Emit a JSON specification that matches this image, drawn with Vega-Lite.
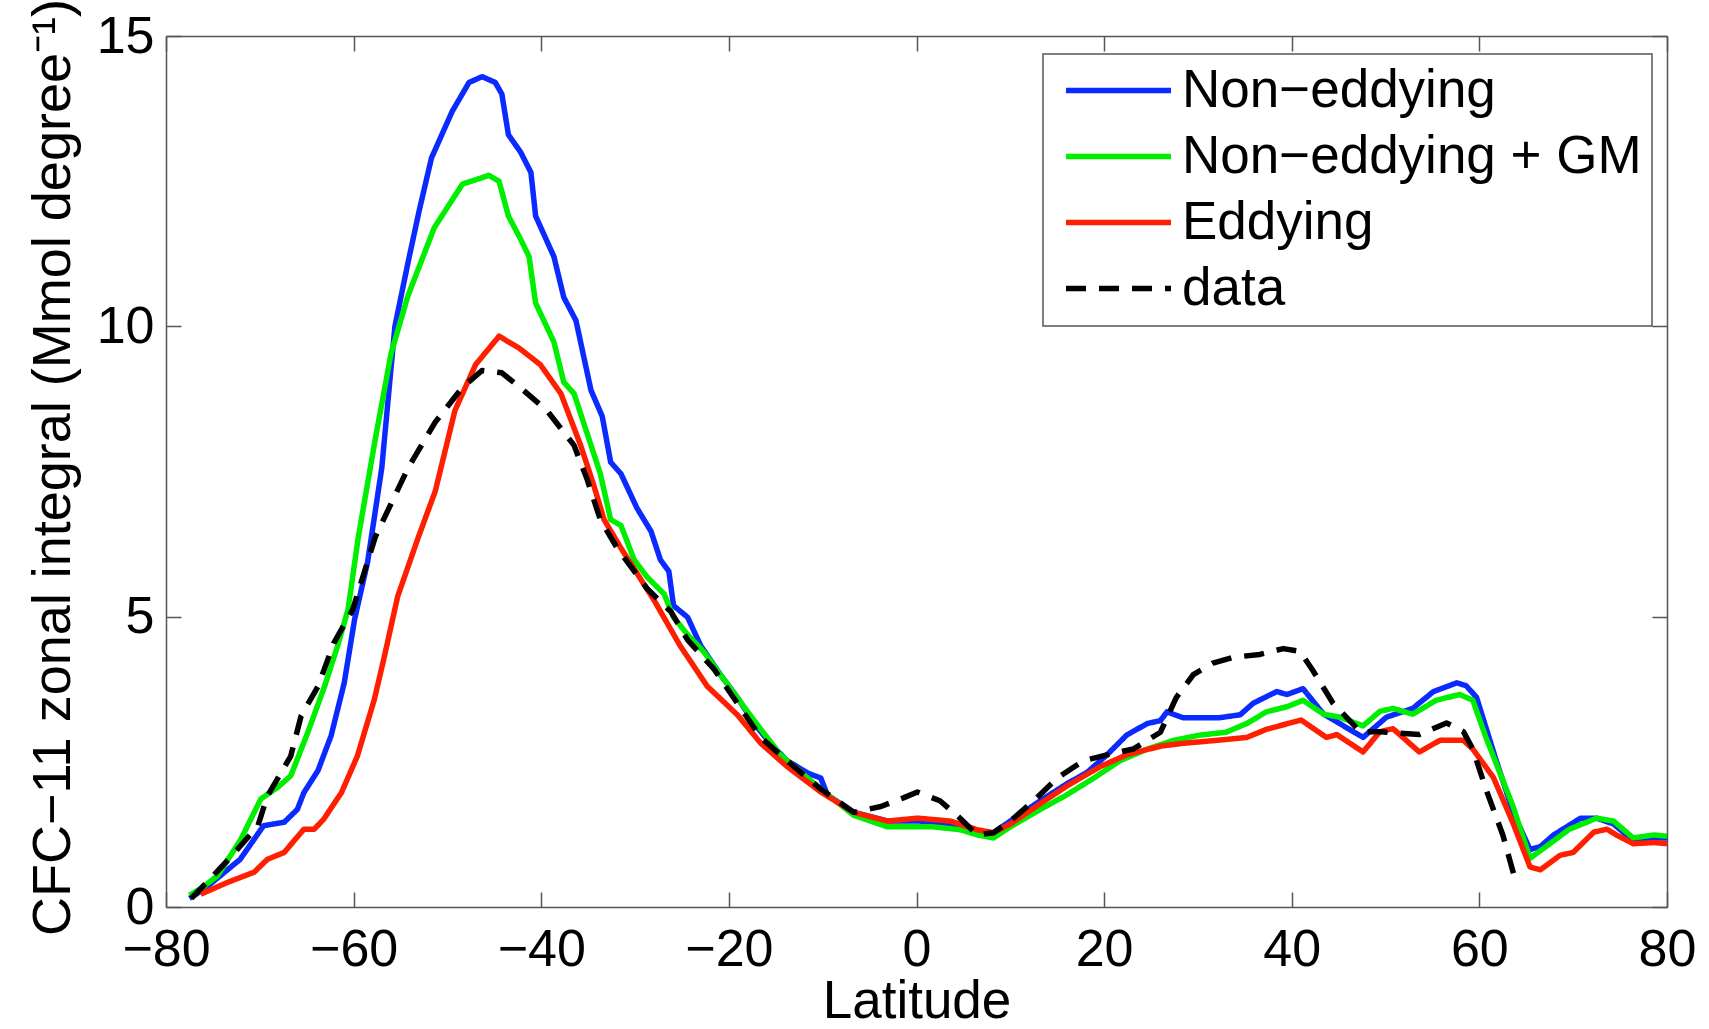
{
  "$schema": "https://vega.github.io/schema/vega-lite/v6.json",
  "width": 1501,
  "height": 871,
  "autosize": {"type": "none"},
  "padding": {"left": 166, "top": 36, "right": 42, "bottom": 122},
  "background": "white",
  "config": {"view": {"stroke": null}, "font": "Liberation Sans", "legend": {"strokeWidth": 1.5}},
  "datasets": {
    "curves": [
      {"s": "Non−eddying", "lat": -77.5, "v": 0.15},
      {"s": "Non−eddying", "lat": -76.0, "v": 0.3},
      {"s": "Non−eddying", "lat": -74.5, "v": 0.5},
      {"s": "Non−eddying", "lat": -72.1, "v": 0.82},
      {"s": "Non−eddying", "lat": -69.6, "v": 1.4},
      {"s": "Non−eddying", "lat": -67.4, "v": 1.46},
      {"s": "Non−eddying", "lat": -66.0, "v": 1.68},
      {"s": "Non−eddying", "lat": -65.3, "v": 1.97},
      {"s": "Non−eddying", "lat": -63.8, "v": 2.35},
      {"s": "Non−eddying", "lat": -62.4, "v": 2.95},
      {"s": "Non−eddying", "lat": -61.0, "v": 3.86},
      {"s": "Non−eddying", "lat": -59.9, "v": 4.95},
      {"s": "Non−eddying", "lat": -58.5, "v": 5.95},
      {"s": "Non−eddying", "lat": -57.0, "v": 7.56},
      {"s": "Non−eddying", "lat": -55.6, "v": 10.0},
      {"s": "Non−eddying", "lat": -54.2, "v": 11.1},
      {"s": "Non−eddying", "lat": -53.0, "v": 12.0},
      {"s": "Non−eddying", "lat": -51.7, "v": 12.9},
      {"s": "Non−eddying", "lat": -49.5, "v": 13.7},
      {"s": "Non−eddying", "lat": -47.7, "v": 14.2},
      {"s": "Non−eddying", "lat": -46.3, "v": 14.3},
      {"s": "Non−eddying", "lat": -44.9, "v": 14.2},
      {"s": "Non−eddying", "lat": -44.2, "v": 14.0},
      {"s": "Non−eddying", "lat": -43.5, "v": 13.3},
      {"s": "Non−eddying", "lat": -42.2, "v": 13.0},
      {"s": "Non−eddying", "lat": -41.1, "v": 12.65},
      {"s": "Non−eddying", "lat": -40.6, "v": 11.9},
      {"s": "Non−eddying", "lat": -38.65, "v": 11.2},
      {"s": "Non−eddying", "lat": -37.6, "v": 10.5},
      {"s": "Non−eddying", "lat": -36.3, "v": 10.1},
      {"s": "Non−eddying", "lat": -34.7, "v": 8.9},
      {"s": "Non−eddying", "lat": -33.5, "v": 8.45},
      {"s": "Non−eddying", "lat": -32.6, "v": 7.66},
      {"s": "Non−eddying", "lat": -31.5, "v": 7.46},
      {"s": "Non−eddying", "lat": -29.8, "v": 6.87},
      {"s": "Non−eddying", "lat": -28.3, "v": 6.47},
      {"s": "Non−eddying", "lat": -27.3, "v": 5.98},
      {"s": "Non−eddying", "lat": -26.4, "v": 5.78},
      {"s": "Non−eddying", "lat": -25.9, "v": 5.19},
      {"s": "Non−eddying", "lat": -24.4, "v": 4.99},
      {"s": "Non−eddying", "lat": -23.0, "v": 4.5},
      {"s": "Non−eddying", "lat": -20.9, "v": 4.0},
      {"s": "Non−eddying", "lat": -19.1, "v": 3.61},
      {"s": "Non−eddying", "lat": -17.3, "v": 3.16},
      {"s": "Non−eddying", "lat": -15.6, "v": 2.82},
      {"s": "Non−eddying", "lat": -13.8, "v": 2.52},
      {"s": "Non−eddying", "lat": -11.5, "v": 2.3},
      {"s": "Non−eddying", "lat": -10.2, "v": 2.22},
      {"s": "Non−eddying", "lat": -9.5, "v": 1.93},
      {"s": "Non−eddying", "lat": -6.7, "v": 1.63},
      {"s": "Non−eddying", "lat": -3.1, "v": 1.48},
      {"s": "Non−eddying", "lat": 0.4, "v": 1.48},
      {"s": "Non−eddying", "lat": 1.8, "v": 1.43},
      {"s": "Non−eddying", "lat": 4.7, "v": 1.38},
      {"s": "Non−eddying", "lat": 6.5, "v": 1.28},
      {"s": "Non−eddying", "lat": 8.2, "v": 1.28},
      {"s": "Non−eddying", "lat": 10.0, "v": 1.48},
      {"s": "Non−eddying", "lat": 13.2, "v": 1.83},
      {"s": "Non−eddying", "lat": 16.0, "v": 2.12},
      {"s": "Non−eddying", "lat": 18.2, "v": 2.32},
      {"s": "Non−eddying", "lat": 20.3, "v": 2.62},
      {"s": "Non−eddying", "lat": 22.4, "v": 2.96},
      {"s": "Non−eddying", "lat": 24.6, "v": 3.16},
      {"s": "Non−eddying", "lat": 26.0, "v": 3.21},
      {"s": "Non−eddying", "lat": 26.7, "v": 3.36},
      {"s": "Non−eddying", "lat": 28.4, "v": 3.26},
      {"s": "Non−eddying", "lat": 30.2, "v": 3.26},
      {"s": "Non−eddying", "lat": 32.3, "v": 3.26},
      {"s": "Non−eddying", "lat": 34.5, "v": 3.31},
      {"s": "Non−eddying", "lat": 35.9, "v": 3.51},
      {"s": "Non−eddying", "lat": 38.4, "v": 3.71},
      {"s": "Non−eddying", "lat": 39.5, "v": 3.66},
      {"s": "Non−eddying", "lat": 41.2, "v": 3.76},
      {"s": "Non−eddying", "lat": 43.4, "v": 3.32},
      {"s": "Non−eddying", "lat": 45.1, "v": 3.16},
      {"s": "Non−eddying", "lat": 47.6, "v": 2.92},
      {"s": "Non−eddying", "lat": 50.1, "v": 3.27},
      {"s": "Non−eddying", "lat": 52.9, "v": 3.42},
      {"s": "Non−eddying", "lat": 55.1, "v": 3.71},
      {"s": "Non−eddying", "lat": 57.6, "v": 3.86},
      {"s": "Non−eddying", "lat": 58.6, "v": 3.81},
      {"s": "Non−eddying", "lat": 59.7, "v": 3.61},
      {"s": "Non−eddying", "lat": 61.8, "v": 2.52},
      {"s": "Non−eddying", "lat": 63.6, "v": 1.63},
      {"s": "Non−eddying", "lat": 65.4, "v": 0.99},
      {"s": "Non−eddying", "lat": 66.5, "v": 1.04},
      {"s": "Non−eddying", "lat": 67.9, "v": 1.24},
      {"s": "Non−eddying", "lat": 70.8, "v": 1.53},
      {"s": "Non−eddying", "lat": 72.5, "v": 1.53},
      {"s": "Non−eddying", "lat": 74.3, "v": 1.43},
      {"s": "Non−eddying", "lat": 76.4, "v": 1.14},
      {"s": "Non−eddying", "lat": 78.6, "v": 1.19},
      {"s": "Non−eddying", "lat": 80.0, "v": 1.19},

      {"s": "Non−eddying + GM", "lat": -77.5, "v": 0.2},
      {"s": "Non−eddying + GM", "lat": -76.0, "v": 0.35},
      {"s": "Non−eddying + GM", "lat": -74.5, "v": 0.54},
      {"s": "Non−eddying + GM", "lat": -72.0, "v": 1.17},
      {"s": "Non−eddying + GM", "lat": -69.9, "v": 1.86},
      {"s": "Non−eddying + GM", "lat": -68.1, "v": 2.06},
      {"s": "Non−eddying + GM", "lat": -66.7, "v": 2.26},
      {"s": "Non−eddying + GM", "lat": -64.9, "v": 3.0},
      {"s": "Non−eddying + GM", "lat": -63.1, "v": 3.8},
      {"s": "Non−eddying + GM", "lat": -61.7, "v": 4.5},
      {"s": "Non−eddying + GM", "lat": -60.6, "v": 5.12},
      {"s": "Non−eddying + GM", "lat": -59.5, "v": 6.37},
      {"s": "Non−eddying + GM", "lat": -57.7, "v": 8.05},
      {"s": "Non−eddying + GM", "lat": -56.0, "v": 9.54},
      {"s": "Non−eddying + GM", "lat": -54.2, "v": 10.53},
      {"s": "Non−eddying + GM", "lat": -51.4, "v": 11.7},
      {"s": "Non−eddying + GM", "lat": -48.4, "v": 12.45},
      {"s": "Non−eddying + GM", "lat": -46.5, "v": 12.55},
      {"s": "Non−eddying + GM", "lat": -45.6, "v": 12.6},
      {"s": "Non−eddying + GM", "lat": -44.5, "v": 12.5},
      {"s": "Non−eddying + GM", "lat": -43.5, "v": 11.9},
      {"s": "Non−eddying + GM", "lat": -42.2, "v": 11.5},
      {"s": "Non−eddying + GM", "lat": -41.3, "v": 11.2},
      {"s": "Non−eddying + GM", "lat": -40.6, "v": 10.4},
      {"s": "Non−eddying + GM", "lat": -38.65, "v": 9.73},
      {"s": "Non−eddying + GM", "lat": -37.6, "v": 9.04},
      {"s": "Non−eddying + GM", "lat": -36.5, "v": 8.84},
      {"s": "Non−eddying + GM", "lat": -35.1, "v": 8.15},
      {"s": "Non−eddying + GM", "lat": -33.7, "v": 7.46},
      {"s": "Non−eddying + GM", "lat": -32.6, "v": 6.67},
      {"s": "Non−eddying + GM", "lat": -31.5, "v": 6.57},
      {"s": "Non−eddying + GM", "lat": -30.1, "v": 5.98},
      {"s": "Non−eddying + GM", "lat": -28.7, "v": 5.68},
      {"s": "Non−eddying + GM", "lat": -26.9, "v": 5.39},
      {"s": "Non−eddying + GM", "lat": -25.9, "v": 4.99},
      {"s": "Non−eddying + GM", "lat": -24.4, "v": 4.69},
      {"s": "Non−eddying + GM", "lat": -22.7, "v": 4.4},
      {"s": "Non−eddying + GM", "lat": -20.9, "v": 4.0},
      {"s": "Non−eddying + GM", "lat": -17.3, "v": 3.21},
      {"s": "Non−eddying + GM", "lat": -14.5, "v": 2.62},
      {"s": "Non−eddying + GM", "lat": -10.2, "v": 2.03},
      {"s": "Non−eddying + GM", "lat": -6.7, "v": 1.58},
      {"s": "Non−eddying + GM", "lat": -3.1, "v": 1.38},
      {"s": "Non−eddying + GM", "lat": 0.4, "v": 1.38},
      {"s": "Non−eddying + GM", "lat": 1.8, "v": 1.38},
      {"s": "Non−eddying + GM", "lat": 4.7, "v": 1.33},
      {"s": "Non−eddying + GM", "lat": 6.5, "v": 1.24},
      {"s": "Non−eddying + GM", "lat": 8.2, "v": 1.19},
      {"s": "Non−eddying + GM", "lat": 10.0, "v": 1.38},
      {"s": "Non−eddying + GM", "lat": 13.2, "v": 1.68},
      {"s": "Non−eddying + GM", "lat": 16.0, "v": 1.93},
      {"s": "Non−eddying + GM", "lat": 18.9, "v": 2.22},
      {"s": "Non−eddying + GM", "lat": 21.7, "v": 2.52},
      {"s": "Non−eddying + GM", "lat": 24.6, "v": 2.72},
      {"s": "Non−eddying + GM", "lat": 27.4, "v": 2.87},
      {"s": "Non−eddying + GM", "lat": 30.2, "v": 2.96},
      {"s": "Non−eddying + GM", "lat": 33.0, "v": 3.01},
      {"s": "Non−eddying + GM", "lat": 35.2, "v": 3.16},
      {"s": "Non−eddying + GM", "lat": 37.3, "v": 3.36},
      {"s": "Non−eddying + GM", "lat": 39.5, "v": 3.45},
      {"s": "Non−eddying + GM", "lat": 41.2, "v": 3.56},
      {"s": "Non−eddying + GM", "lat": 43.4, "v": 3.32},
      {"s": "Non−eddying + GM", "lat": 45.1, "v": 3.27},
      {"s": "Non−eddying + GM", "lat": 47.6, "v": 3.12},
      {"s": "Non−eddying + GM", "lat": 49.4, "v": 3.37},
      {"s": "Non−eddying + GM", "lat": 50.8, "v": 3.42},
      {"s": "Non−eddying + GM", "lat": 52.9, "v": 3.32},
      {"s": "Non−eddying + GM", "lat": 55.4, "v": 3.56},
      {"s": "Non−eddying + GM", "lat": 57.9, "v": 3.66},
      {"s": "Non−eddying + GM", "lat": 59.3, "v": 3.56},
      {"s": "Non−eddying + GM", "lat": 60.7, "v": 2.92},
      {"s": "Non−eddying + GM", "lat": 63.6, "v": 1.73},
      {"s": "Non−eddying + GM", "lat": 65.4, "v": 0.84},
      {"s": "Non−eddying + GM", "lat": 67.1, "v": 1.04},
      {"s": "Non−eddying + GM", "lat": 69.6, "v": 1.34},
      {"s": "Non−eddying + GM", "lat": 72.5, "v": 1.53},
      {"s": "Non−eddying + GM", "lat": 74.3, "v": 1.48},
      {"s": "Non−eddying + GM", "lat": 76.4, "v": 1.19},
      {"s": "Non−eddying + GM", "lat": 78.6, "v": 1.24},
      {"s": "Non−eddying + GM", "lat": 80.0, "v": 1.22},

      {"s": "Eddying", "lat": -76.3, "v": 0.22},
      {"s": "Eddying", "lat": -73.5, "v": 0.42},
      {"s": "Eddying", "lat": -70.6, "v": 0.6},
      {"s": "Eddying", "lat": -69.2, "v": 0.82},
      {"s": "Eddying", "lat": -67.4, "v": 0.94},
      {"s": "Eddying", "lat": -65.3, "v": 1.34},
      {"s": "Eddying", "lat": -64.2, "v": 1.34},
      {"s": "Eddying", "lat": -63.2, "v": 1.51},
      {"s": "Eddying", "lat": -61.3, "v": 1.97},
      {"s": "Eddying", "lat": -59.6, "v": 2.6},
      {"s": "Eddying", "lat": -57.8, "v": 3.57},
      {"s": "Eddying", "lat": -56.8, "v": 4.26},
      {"s": "Eddying", "lat": -55.3, "v": 5.35},
      {"s": "Eddying", "lat": -53.1, "v": 6.37},
      {"s": "Eddying", "lat": -51.3, "v": 7.16},
      {"s": "Eddying", "lat": -49.2, "v": 8.55},
      {"s": "Eddying", "lat": -47.0, "v": 9.34},
      {"s": "Eddying", "lat": -44.5, "v": 9.83},
      {"s": "Eddying", "lat": -42.4, "v": 9.63},
      {"s": "Eddying", "lat": -40.1, "v": 9.34},
      {"s": "Eddying", "lat": -37.9, "v": 8.84},
      {"s": "Eddying", "lat": -35.8, "v": 7.95},
      {"s": "Eddying", "lat": -34.4, "v": 7.26},
      {"s": "Eddying", "lat": -33.3, "v": 6.67},
      {"s": "Eddying", "lat": -31.5, "v": 6.18},
      {"s": "Eddying", "lat": -28.0, "v": 5.29},
      {"s": "Eddying", "lat": -25.2, "v": 4.5},
      {"s": "Eddying", "lat": -22.3, "v": 3.8},
      {"s": "Eddying", "lat": -19.1, "v": 3.31},
      {"s": "Eddying", "lat": -16.6, "v": 2.82},
      {"s": "Eddying", "lat": -13.8, "v": 2.42},
      {"s": "Eddying", "lat": -10.2, "v": 1.98},
      {"s": "Eddying", "lat": -6.7, "v": 1.63},
      {"s": "Eddying", "lat": -3.1, "v": 1.48},
      {"s": "Eddying", "lat": 0.1, "v": 1.53},
      {"s": "Eddying", "lat": 3.6, "v": 1.48},
      {"s": "Eddying", "lat": 6.5, "v": 1.33},
      {"s": "Eddying", "lat": 8.2, "v": 1.28},
      {"s": "Eddying", "lat": 10.0, "v": 1.43},
      {"s": "Eddying", "lat": 13.2, "v": 1.78},
      {"s": "Eddying", "lat": 16.0, "v": 2.08},
      {"s": "Eddying", "lat": 19.6, "v": 2.42},
      {"s": "Eddying", "lat": 22.4, "v": 2.62},
      {"s": "Eddying", "lat": 26.0, "v": 2.77},
      {"s": "Eddying", "lat": 28.5, "v": 2.82},
      {"s": "Eddying", "lat": 32.0, "v": 2.87},
      {"s": "Eddying", "lat": 35.2, "v": 2.92},
      {"s": "Eddying", "lat": 37.3, "v": 3.06},
      {"s": "Eddying", "lat": 41.0, "v": 3.22},
      {"s": "Eddying", "lat": 43.7, "v": 2.92},
      {"s": "Eddying", "lat": 44.8, "v": 2.97},
      {"s": "Eddying", "lat": 47.6, "v": 2.67},
      {"s": "Eddying", "lat": 49.4, "v": 3.02},
      {"s": "Eddying", "lat": 50.8, "v": 3.07},
      {"s": "Eddying", "lat": 53.6, "v": 2.67},
      {"s": "Eddying", "lat": 55.8, "v": 2.87},
      {"s": "Eddying", "lat": 58.3, "v": 2.87},
      {"s": "Eddying", "lat": 59.3, "v": 2.72},
      {"s": "Eddying", "lat": 61.5, "v": 2.23},
      {"s": "Eddying", "lat": 63.6, "v": 1.44},
      {"s": "Eddying", "lat": 65.4, "v": 0.69},
      {"s": "Eddying", "lat": 66.5, "v": 0.64},
      {"s": "Eddying", "lat": 68.6, "v": 0.89},
      {"s": "Eddying", "lat": 70.0, "v": 0.94},
      {"s": "Eddying", "lat": 72.2, "v": 1.29},
      {"s": "Eddying", "lat": 73.6, "v": 1.34},
      {"s": "Eddying", "lat": 74.6, "v": 1.24},
      {"s": "Eddying", "lat": 76.4, "v": 1.09},
      {"s": "Eddying", "lat": 78.6, "v": 1.11},
      {"s": "Eddying", "lat": 80.0, "v": 1.09},

      {"s": "data", "lat": -77.3, "v": 0.15},
      {"s": "data", "lat": -75.5, "v": 0.45},
      {"s": "data", "lat": -73.1, "v": 0.86},
      {"s": "data", "lat": -70.2, "v": 1.4},
      {"s": "data", "lat": -69.2, "v": 1.91},
      {"s": "data", "lat": -66.7, "v": 2.6},
      {"s": "data", "lat": -65.6, "v": 3.29},
      {"s": "data", "lat": -63.8, "v": 3.8},
      {"s": "data", "lat": -62.1, "v": 4.55},
      {"s": "data", "lat": -60.1, "v": 5.12},
      {"s": "data", "lat": -57.7, "v": 6.37},
      {"s": "data", "lat": -54.2, "v": 7.56},
      {"s": "data", "lat": -51.3, "v": 8.35},
      {"s": "data", "lat": -48.4, "v": 8.95},
      {"s": "data", "lat": -46.3, "v": 9.24},
      {"s": "data", "lat": -44.2, "v": 9.2},
      {"s": "data", "lat": -42.2, "v": 8.94},
      {"s": "data", "lat": -39.4, "v": 8.55},
      {"s": "data", "lat": -36.5, "v": 7.95},
      {"s": "data", "lat": -35.1, "v": 7.36},
      {"s": "data", "lat": -33.7, "v": 6.67},
      {"s": "data", "lat": -31.9, "v": 6.18},
      {"s": "data", "lat": -28.7, "v": 5.48},
      {"s": "data", "lat": -26.2, "v": 5.09},
      {"s": "data", "lat": -24.4, "v": 4.6},
      {"s": "data", "lat": -21.6, "v": 4.1},
      {"s": "data", "lat": -19.1, "v": 3.51},
      {"s": "data", "lat": -16.6, "v": 2.92},
      {"s": "data", "lat": -13.8, "v": 2.52},
      {"s": "data", "lat": -10.2, "v": 2.03},
      {"s": "data", "lat": -6.7, "v": 1.63},
      {"s": "data", "lat": -3.8, "v": 1.73},
      {"s": "data", "lat": -1.4, "v": 1.88},
      {"s": "data", "lat": 0.1, "v": 1.98},
      {"s": "data", "lat": 2.5, "v": 1.83},
      {"s": "data", "lat": 4.3, "v": 1.58},
      {"s": "data", "lat": 6.5, "v": 1.24},
      {"s": "data", "lat": 8.2, "v": 1.28},
      {"s": "data", "lat": 10.0, "v": 1.48},
      {"s": "data", "lat": 12.5, "v": 1.83},
      {"s": "data", "lat": 15.0, "v": 2.22},
      {"s": "data", "lat": 17.8, "v": 2.52},
      {"s": "data", "lat": 20.3, "v": 2.62},
      {"s": "data", "lat": 23.1, "v": 2.72},
      {"s": "data", "lat": 26.0, "v": 3.01},
      {"s": "data", "lat": 27.7, "v": 3.61},
      {"s": "data", "lat": 29.5, "v": 4.0},
      {"s": "data", "lat": 31.6, "v": 4.2},
      {"s": "data", "lat": 33.8, "v": 4.3},
      {"s": "data", "lat": 36.6, "v": 4.35},
      {"s": "data", "lat": 39.1, "v": 4.45},
      {"s": "data", "lat": 40.9, "v": 4.4},
      {"s": "data", "lat": 42.3, "v": 4.06},
      {"s": "data", "lat": 44.4, "v": 3.51},
      {"s": "data", "lat": 47.3, "v": 3.02},
      {"s": "data", "lat": 49.4, "v": 3.02},
      {"s": "data", "lat": 53.6, "v": 2.97},
      {"s": "data", "lat": 56.5, "v": 3.17},
      {"s": "data", "lat": 58.3, "v": 3.02},
      {"s": "data", "lat": 59.3, "v": 2.72},
      {"s": "data", "lat": 60.7, "v": 2.03},
      {"s": "data", "lat": 62.5, "v": 1.24},
      {"s": "data", "lat": 63.7, "v": 0.54}
    ]
  },
  "data": {"name": "curves"},
  "layer": [
    {
      "transform": [{"filter": {"field": "s", "equal": "Non−eddying"}}],
      "mark": {"type": "line", "strokeWidth": 5.5, "strokeJoin": "round"},
      "encoding": {
        "x": {"field": "lat", "type": "quantitative", "scale": {"domain": [-80, 80], "nice": false, "zero": false},
          "axis": {"orient": "bottom", "values": [-80, -60, -40, -20, 0, 20, 40, 60, 80], "format": "d", "grid": false,
            "title": "Latitude", "titleFont": "Liberation Sans", "titleFontSize": 53, "titleFontWeight": "normal", "titleColor": "#000000",
            "titleBaseline": "alphabetic", "titleY": 110,
            "labelFont": "Liberation Sans", "labelFontSize": 52, "labelColor": "#000000", "labelPadding": 32, "labelFlush": false, "labelOverlap": false,
            "tickSize": -15, "tickColor": "#555555", "tickWidth": 1.5, "domainColor": "#555555", "domainWidth": 1.5}},
        "y": {"field": "v", "type": "quantitative", "scale": {"domain": [0, 15], "nice": false},
          "axis": {"orient": "left", "values": [0, 5, 10, 15], "format": "d", "grid": false,
            "title": "CFC−11 zonal integral (Mmol degree⁻¹)", "titleFont": "Liberation Sans", "titleFontSize": 54, "titleFontWeight": "normal", "titleColor": "#000000",
            "titleAngle": -90, "titleAlign": "center", "titleBaseline": "alphabetic", "titleX": -97, "titleY": 431,
            "labelFont": "Liberation Sans", "labelFontSize": 52, "labelColor": "#000000", "labelPadding": 27, "labelFlush": false, "labelOverlap": false,
            "tickSize": -15, "tickColor": "#555555", "tickWidth": 1.5, "domainColor": "#555555", "domainWidth": 1.5}},
        "color": {"field": "s", "type": "nominal",
          "scale": {"domain": ["Non−eddying", "Non−eddying + GM", "Eddying", "data"], "range": ["#0a2aff", "#00ee00", "#ff1e00", "#000000"]},
          "legend": {"title": null, "orient": "none", "legendX": 877, "legendY": 18, "symbolType": "stroke", "symbolSize": 11025, "symbolStrokeWidth": 5.5,
            "symbolOffset": 10, "labelOffset": 8, "labelFont": "Liberation Sans", "labelFontSize": 53, "labelColor": "#000000", "labelLimit": 1000,
            "clipHeight": 53, "rowPadding": 12, "padding": 10, "strokeColor": "#555555", "fillColor": "#ffffff"}},
        "strokeDash": {"field": "s", "type": "nominal",
          "scale": {"domain": ["Non−eddying", "Non−eddying + GM", "Eddying", "data"], "range": [[1, 0], [1, 0], [1, 0], [20, 13]]},
          "legend": {"title": null, "orient": "none", "legendX": 877, "legendY": 18, "symbolType": "stroke", "symbolSize": 11025, "symbolStrokeWidth": 5.5,
            "symbolOffset": 10, "labelOffset": 8, "labelFont": "Liberation Sans", "labelFontSize": 53, "labelColor": "#000000", "labelLimit": 1000,
            "clipHeight": 53, "rowPadding": 12, "padding": 10, "strokeColor": "#555555", "fillColor": "#ffffff"}}
      }
    },
    {
      "transform": [{"filter": {"field": "s", "equal": "Non−eddying + GM"}}],
      "mark": {"type": "line", "strokeWidth": 5.5, "strokeJoin": "round"},
      "encoding": {
        "x": {"field": "lat", "type": "quantitative", "axis": null},
        "y": {"field": "v", "type": "quantitative", "axis": null},
        "color": {"field": "s", "type": "nominal"},
        "strokeDash": {"field": "s", "type": "nominal"}
      }
    },
    {
      "transform": [{"filter": {"field": "s", "equal": "Eddying"}}],
      "mark": {"type": "line", "strokeWidth": 5.5, "strokeJoin": "round"},
      "encoding": {
        "x": {"field": "lat", "type": "quantitative", "axis": null},
        "y": {"field": "v", "type": "quantitative", "axis": null},
        "color": {"field": "s", "type": "nominal"},
        "strokeDash": {"field": "s", "type": "nominal"}
      }
    },
    {
      "transform": [{"filter": {"field": "s", "equal": "data"}}],
      "mark": {"type": "line", "strokeWidth": 5.5, "strokeJoin": "round"},
      "encoding": {
        "x": {"field": "lat", "type": "quantitative", "axis": null},
        "y": {"field": "v", "type": "quantitative", "axis": null},
        "color": {"field": "s", "type": "nominal"},
        "strokeDash": {"field": "s", "type": "nominal"}
      }
    },
    {
      "mark": {"type": "point", "opacity": 0, "size": 1},
      "encoding": {
        "x": {"field": "lat", "type": "quantitative",
          "axis": {"orient": "top", "values": [-80, -60, -40, -20, 0, 20, 40, 60, 80], "labels": false, "title": null, "grid": false,
            "tickSize": -15, "tickColor": "#555555", "tickWidth": 1.5, "domainColor": "#555555", "domainWidth": 1.5}},
        "y": {"field": "v", "type": "quantitative",
          "axis": {"orient": "right", "values": [0, 5, 10, 15], "labels": false, "title": null, "grid": false,
            "tickSize": -15, "tickColor": "#555555", "tickWidth": 1.5, "domainColor": "#555555", "domainWidth": 1.5}}
      }
    }
  ],
  "resolve": {"axis": {"x": "independent", "y": "independent"}}
}
